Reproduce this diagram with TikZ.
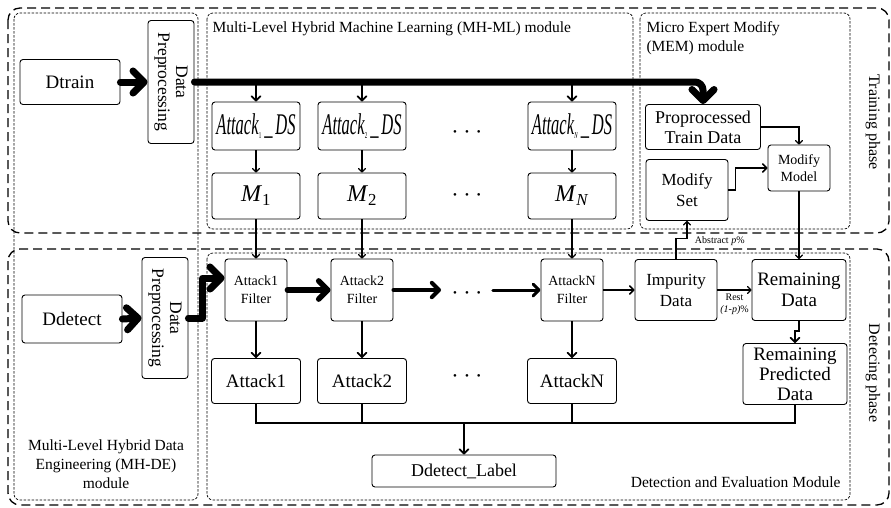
\documentclass[tikz,border=0pt]{standalone}
\usepackage{fontspec}
\setmainfont{Liberation Serif}
\usetikzlibrary{arrows.meta,positioning}

\newcommand{\fs}[1]{\fontsize{#1}{#1}\selectfont}
\newcommand{\dsname}[1]{\scalebox{0.55}[1]{\fs{30}\textit{Attack}\textsubscript{\fs{9}#1}\,\_\,\textit{DS}}}
\newcommand{\dotrow}{\textbullet\hspace{8pt}\textbullet\hspace{8pt}\textbullet}

\tikzset{
  >={Straight Barb[angle=90:3pt 1.8,round]},
  blk/.style={draw, rounded corners=3pt, align=center, inner sep=1pt, line width=0.9pt},
  phase/.style={draw, rounded corners=12pt, dash pattern=on 9pt off 5pt, line width=1.3pt},
  module/.style={draw, rounded corners=6pt, dash pattern=on 2.5pt off 1.5pt, line width=0.7pt},
  flow/.style={->, line width=1.1pt},
  fat/.style={->, line width=7pt, line cap=round, line join=round},
  dots/.style={inner xsep=12pt, font=\fs{11}},
}

\begin{document}
\begin{tikzpicture}[x=1pt, y=-1pt]
\useasboundingbox (0,0) rectangle (891,507);

% phases and modules
\draw[phase] (8,8) rectangle (889,233);
\draw[phase] (8,249) rectangle (889,505);
\draw[module] (14,13) rectangle (198,500);
\draw[module] (207,13) rectangle (633,229);
\draw[module] (640,13) rectangle (850,229);
\draw[module] (207,253) rectangle (850,500);

\node[anchor=west, font=\fs{15.5}] (mlname) at (209,29) {Multi-Level Hybrid Machine Learning (MH-ML) module};
\node[anchor=north west, align=left, font=\fontsize{15.5}{19}\selectfont] (memname) at (643,18) {Micro Expert Modify\\ (MEM) module};
\node[align=center, font=\fontsize{15.5}{19}\selectfont] (dename) at (106,464) {Multi-Level Hybrid Data\\Engineering (MH-DE)\\module};
\node[anchor=east, font=\fs{15.5}] (dename) at (844,482) {Detection and Evaluation Module};
\node[rotate=-90, font=\fs{16}] (trainph) at (873,122) {Training phase};
\node[rotate=-90, font=\fs{16}] (detph) at (873,373) {Detecing phase};

% training phase
\node[blk, minimum width=100pt, minimum height=45pt, font=\fs{19}] (dtrain) at (70,82) {Dtrain};
\node[blk, minimum width=123pt, minimum height=46pt, rotate=-90, font=\fontsize{17.5}{18}\selectfont] (prep1) at (171,82) {Data\\Preprocessing};

\node[blk, minimum width=88pt, minimum height=48pt] (ds1) at (256,126) {\dsname{1}};
\node[blk, minimum width=88pt, minimum height=48pt] (ds2) at (362,126) {\dsname{2}};
\node[blk, minimum width=88pt, minimum height=48pt] (dsn) at (572,126) {\dsname{\textit{N}}};
\node[dots] (dsdots) at (467,133) {\dotrow};

\node[blk, minimum width=88pt, minimum height=46pt, font=\fs{24}] (m1) at (256,196) {\textit{M}\textsubscript{1}};
\node[blk, minimum width=88pt, minimum height=46pt, font=\fs{24}] (m2) at (362,196) {\textit{M}\textsubscript{2}};
\node[blk, minimum width=88pt, minimum height=46pt, font=\fs{24}] (mn) at (572,196) {\textit{M}\textsubscript{\textit{N}}};
\node[dots] (mdots) at (467,196) {\dotrow};

\node[blk, minimum width=115pt, minimum height=45pt, font=\fontsize{18}{20}\selectfont] (ptd) at (703,127) {Proprocessed\\Train Data};
\node[blk, minimum width=62pt, minimum height=46pt, font=\fontsize{14}{17}\selectfont] (mmod) at (799,168) {Modify\\Model};
\node[blk, minimum width=82pt, minimum height=61pt, font=\fontsize{17}{21}\selectfont] (mset) at (687,190) {Modify\\Set};

% detecting phase
\node[blk, minimum width=100pt, minimum height=48pt, font=\fs{19}] (ddetect) at (72,319) {Ddetect};
\node[blk, minimum width=121pt, minimum height=46pt, rotate=-90, font=\fontsize{17.5}{18}\selectfont] (prep2) at (165,318) {Data\\Preprocessing};

\node[blk, minimum width=62pt, minimum height=62pt, font=\fontsize{14}{18}\selectfont] (f1) at (256,290) {Attack1\\Filter};
\node[blk, minimum width=62pt, minimum height=62pt, font=\fontsize{14}{18}\selectfont] (f2) at (362,290) {Attack2\\Filter};
\node[blk, minimum width=62pt, minimum height=62pt, font=\fontsize{14}{18}\selectfont] (fn) at (572,290) {AttackN\\Filter};
\node[dots] (fdots) at (467,294) {\dotrow};
\node[blk, minimum width=82pt, minimum height=61pt, font=\fontsize{17}{21}\selectfont] (imp) at (676,290) {Impurity\\Data};
\node[blk, minimum width=94pt, minimum height=61pt, font=\fontsize{19}{21}\selectfont] (rem) at (799,290) {Remaining\\Data};
\node[blk, minimum width=104pt, minimum height=61pt, font=\fontsize{19}{20}\selectfont] (rpd) at (795,374) {Remaining\\Predicted\\Data};

\node[blk, minimum width=89pt, minimum height=45pt, font=\fs{19}] (a1) at (256,381) {Attack1};
\node[blk, minimum width=89pt, minimum height=45pt, font=\fs{19}] (a2) at (362,381) {Attack2};
\node[blk, minimum width=89pt, minimum height=45pt, font=\fs{19}] (an) at (572,381) {AttackN};
\node[dots] (adots) at (467,377) {\dotrow};
\node[blk, minimum width=184pt, minimum height=32pt, font=\fs{18}] (lab) at (464,471) {Ddetect\_Label};
\coordinate (mrg) at (464,423);

% training flows
\draw[fat] (dtrain.east) -- (prep1.south);
\draw[fat, rounded corners=8pt] (prep1.north) -| (ptd.north);
\foreach \d in {ds1,ds2,dsn}
  \draw[->, line width=1.8pt] (\d.north |- prep1.north) -- (\d.north);
\draw[flow] (ds1) -- (m1);
\draw[flow] (ds2) -- (m2);
\draw[flow] (dsn) -- (mn);
\draw[flow] (ptd.east) -| (mmod.north);
\draw[flow, line width=1.6pt] (mset.east) -- ++(7,0) |- (mmod.west);
\draw[flow] (mmod.south) -- (rem.north);

% detecting flows
\draw[fat] (ddetect.east) -- (prep2.south);
\draw[fat] (prep2.north) -- ++(14,0) |- ([yshift=12pt]f1.west);
\draw[flow] (m1.south) -- (f1.north);
\draw[flow] (m2.south) -- (f2.north);
\draw[flow] (mn.south) -- (fn.north);
\draw[->, line width=5.5pt, line cap=round] (f1.east) -- (f2.west);
\draw[->, line width=4pt, line cap=round] (f2.east) -- (f2.east -| fdots.west);
\draw[->, line width=3pt, line cap=round] (fn.west -| fdots.east) -- (fn.west);
\draw[->, line width=1.6pt] (fn.east) -- (imp.west);
\draw[flow] (imp.east) -- node[below, align=center, font=\fontsize{10}{12}\selectfont] {Rest\\\textit{(1-p)}\%} (rem.west);
\draw[flow] (imp.north) -- ++(0,-21) node[anchor=west, xshift=15pt, yshift=-3pt, font=\fs{10}] {Abstract \textit{p}\%} -| (mset.south);
\draw[->, line width=1.8pt] (rem.south) -- ++(0,10) -| (rpd.north);
\foreach \f/\a in {f1/a1,f2/a2,fn/an}
  \draw[->, line width=1.8pt] (\f.south) -- (\a.north);
\draw[line width=1.8pt] (a1.south) |- (rpd.south |- mrg) -- (rpd.south);
\draw[line width=1.8pt] (a2.south) -- (a2.south |- mrg);
\draw[line width=1.8pt] (an.south) -- (an.south |- mrg);
\draw[->, line width=1.8pt] (mrg) -- (lab.north);
\end{tikzpicture}
\end{document}
